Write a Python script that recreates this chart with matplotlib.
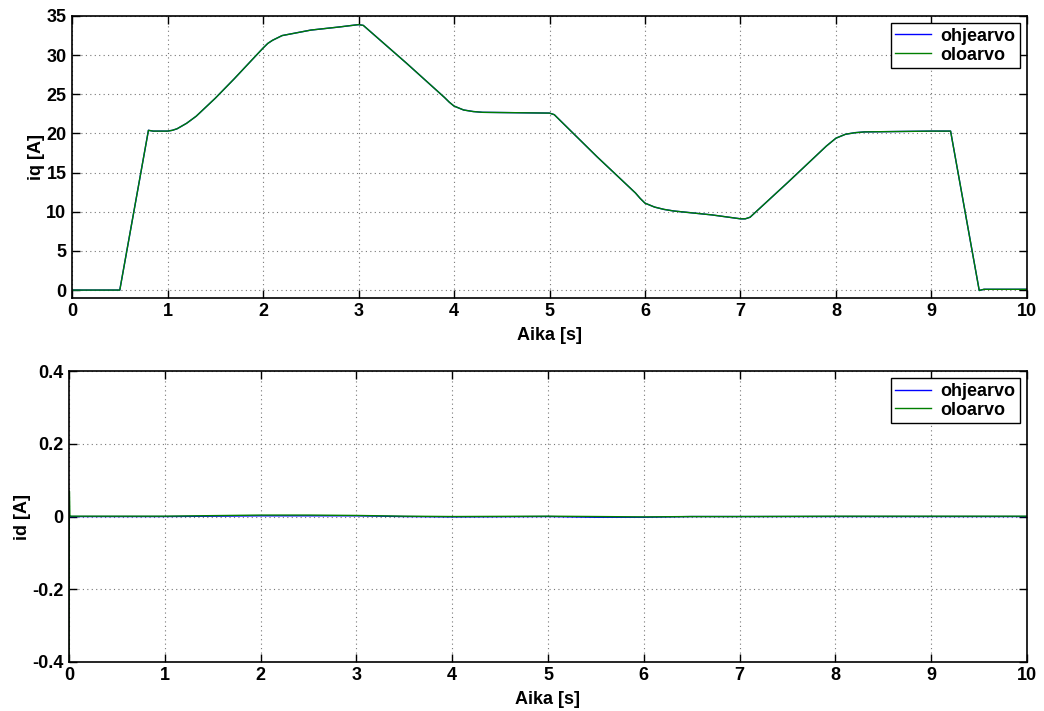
import matplotlib
matplotlib.use("Agg")
import matplotlib.pyplot as plt
import numpy as np

t_iq = [0.0, 0.5, 0.8, 0.85, 1.0, 1.05, 1.1, 1.2, 1.3, 1.5, 1.7, 1.9, 2.0, 2.05, 2.1, 2.2, 2.5,
        2.8, 3.0, 3.05, 3.5, 3.9, 3.95, 4.0, 4.1, 4.2, 4.3, 5.0, 5.05, 5.5, 5.9, 5.95, 6.0, 6.1,
        6.2, 6.3, 6.7, 7.0, 7.05, 7.1, 7.5, 7.9, 7.95, 8.0, 8.1, 8.2, 8.3, 9.0, 9.2, 9.5, 9.55, 10.0]
iq_ref = [0.0, 0.0, 20.4, 20.3, 20.3, 20.4, 20.6, 21.3, 22.2, 24.5, 27.0, 29.6, 30.9, 31.5,
          31.9, 32.5, 33.2, 33.6, 33.9, 33.8, 29.0, 24.6, 24.0, 23.5, 23.0, 22.8, 22.7, 22.6,
          22.4, 17.0, 12.4, 11.7, 11.1, 10.6, 10.3, 10.1, 9.6, 9.1, 9.1, 9.3, 13.8, 18.4,
          18.9, 19.4, 19.9, 20.1, 20.2, 20.3, 20.3, -0.05, 0.1, 0.1]
iq_meas = iq_ref

t_id = [0.0, 0.005, 0.01, 0.02, 1.0, 2.0, 2.5, 3.0, 3.5, 4.0, 5.0, 5.5, 6.0, 6.5, 7.0, 8.0, 9.0, 10.0]
id_ref = [0.0, 0.0, 0.0, 0.0, 0.0, 0.002, 0.002, 0.002, 0.0, -0.001, 0.0, -0.002, -0.002, 0.0,
          0.0, 0.0, 0.0, 0.0]
id_meas = [-0.4, 0.07, 0.003, 0.001, 0.001, 0.004, 0.004, 0.003, 0.001, 0.0, 0.001, 0.0,
           -0.001, 0.0, 0.0, 0.001, 0.001, 0.001]

FS = 13

plt.rcParams['font.family'] = ['Liberation Sans', 'DejaVu Sans']
plt.rcParams['font.weight'] = 'bold'
plt.rcParams['font.size'] = FS

fig = plt.figure(figsize=(10.44, 7.11), dpi=100)
ax1 = fig.add_axes([0.069, 0.581, 0.9147, 0.3965])
ax2 = fig.add_axes([0.066, 0.069, 0.9177, 0.409])

blue = '#0000ff'
green = '#007f00'

def style(ax):
    ax.grid(True, linestyle=(0, (1, 3)), color='#777777', linewidth=0.8)
    ax.tick_params(direction='in', length=6, width=1.0, top=True, right=True, pad=4,
                   labelsize=FS)
    for s in ax.spines.values():
        s.set_linewidth(1.2)
    for lab in ax.get_xticklabels() + ax.get_yticklabels():
        lab.set_fontweight('bold')
    ax.set_xlabel('Aika [s]', fontweight='bold', fontsize=FS, labelpad=5)
    leg = ax.legend(loc='upper right', fancybox=False, edgecolor='black', framealpha=1,
                    prop={'weight': 'bold', 'size': FS}, handlelength=2.0,
                    borderpad=0.25, labelspacing=0.1, handletextpad=0.5,
                    borderaxespad=0.4)
    leg.get_frame().set_linewidth(1.0)

ax1.plot(t_iq, iq_ref, color=blue, lw=1.0, label='ohjearvo')
ax1.plot(t_iq, iq_meas, color=green, lw=1.0, label='oloarvo')
ax1.set_xlim(0, 10)
ax1.set_ylim(-1, 35)
ax1.set_xticks(range(0, 11))
ax1.set_yticks(range(0, 36, 5))
ax1.set_ylabel('iq [A]', fontweight='bold', fontsize=FS, labelpad=1)
style(ax1)

ax2.plot(t_id, id_ref, color=blue, lw=1.0, label='ohjearvo')
ax2.plot(t_id, id_meas, color=green, lw=1.0, label='oloarvo')
ax2.set_xlim(0, 10)
ax2.set_ylim(-0.4, 0.4)
ax2.set_xticks(range(0, 11))
ax2.set_yticks([-0.4, -0.2, 0, 0.2, 0.4])
ax2.set_yticklabels(['-0.4', '-0.2', '0', '0.2', '0.4'])
ax2.set_ylabel('id [A]', fontweight='bold', fontsize=FS, labelpad=1)
style(ax2)

fig.savefig('out.png', dpi=100)
